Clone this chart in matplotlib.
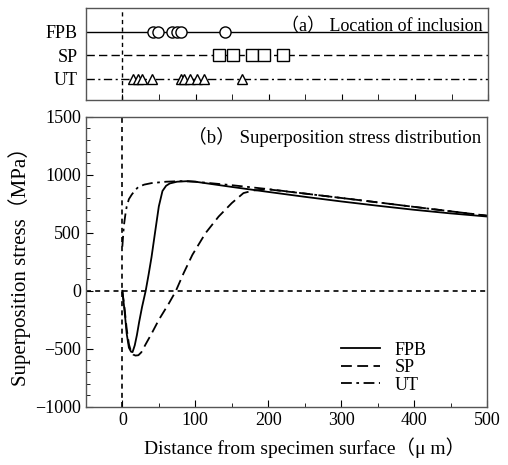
import numpy as np
import matplotlib
matplotlib.use("Agg")
import matplotlib.pyplot as plt
from matplotlib.ticker import MultipleLocator

plt.rcParams['font.family'] = ['Liberation Serif', 'Noto Sans CJK JP', 'DejaVu Sans']

# (a) inclusion locations, um
fpb_loc = [42, 48, 68, 74, 80, 140]
sp_loc = [132, 151, 177, 193, 219]
ut_loc = [14, 21, 27, 41, 80, 84, 93, 102, 112, 163]

# (b) superposition stress curves
fpb_x = [0, 3, 6, 9, 12, 14, 17, 20, 23, 27, 32, 36, 40, 45, 50, 55, 60, 65, 75, 90,
         100, 150, 200, 250, 300, 350, 400, 450, 500]
fpb_y = [0, -170, -370, -490, -525, -528, -470, -380, -270, -140, 0, 140, 290, 510, 727,
         860, 905, 925, 940, 945, 940, 895, 852, 810, 770, 733, 698, 667, 640]

sp_x = [0, 3, 6, 9, 12, 15, 18, 22, 26, 32, 40, 50, 64, 73, 84, 96, 114, 132, 150, 166,
        180, 200, 250, 300, 350, 400, 450, 500]
sp_y = [0, -150, -330, -460, -525, -550, -558, -555, -530, -460, -370, -250, -106, -6,
        152, 310, 497, 640, 756, 842, 865, 874, 838, 800, 762, 723, 685, 647]

ut_x = [0, 2, 4, 6, 9, 13, 18, 22, 30, 40, 60, 80, 100, 150, 200, 250, 300, 350, 400,
        450, 500]
ut_y = [380, 555, 650, 727, 790, 830, 870, 895, 915, 928, 940, 945, 940, 910, 876, 838,
        800, 762, 723, 685, 647]

dash_sp = (6, 3)
dash_ut = (6, 2.5, 1.5, 2.5)
fs = 13

fig = plt.figure(figsize=(5.08, 4.65), dpi=100)
ax1 = fig.add_axes([0.169, 0.785, 0.792, 0.198])
ax2 = fig.add_axes([0.169, 0.125, 0.790, 0.624])

# top panel
ax1.axhline(3, color='black', lw=1.0, zorder=1)
ax1.axhline(2, color='black', lw=1.0, dashes=dash_sp, zorder=1)
ax1.axhline(1, color='black', lw=1.0, dashes=dash_ut, zorder=1)
ax1.axvline(0, color='black', lw=1.0, dashes=(3, 2.5), zorder=1)
ax1.plot(fpb_loc, [3] * len(fpb_loc), 'o', ms=8, mfc='white', mec='black', mew=1.0, ls='none')
ax1.plot(sp_loc, [2] * len(sp_loc), 's', ms=8, mfc='white', mec='black', mew=1.0, ls='none')
ax1.plot(ut_loc, [1] * len(ut_loc), '^', ms=7.5, mfc='white', mec='black', mew=1.0, ls='none')
ax1.set_xlim(-50, 500)
ax1.set_ylim(0.1, 4.0)
ax1.set_yticks([3, 2, 1])
ax1.set_yticklabels(['FPB', 'SP', 'UT'], fontsize=fs)
ax1.tick_params(axis='y', length=0, pad=6)
ax1.xaxis.set_major_locator(MultipleLocator(100))
ax1.xaxis.set_minor_locator(MultipleLocator(50))
ax1.tick_params(axis='x', which='both', direction='in', labelbottom=False, length=4)
ax1.text(0.985, 0.80, '（a） Location of inclusion', transform=ax1.transAxes,
         ha='right', va='center', fontsize=13)

# bottom panel
ax2.plot(fpb_x, fpb_y, color='black', lw=1.3, label='FPB')
ax2.plot(sp_x, sp_y, color='black', lw=1.3, dashes=dash_sp, label='SP')
ax2.plot(ut_x, ut_y, color='black', lw=1.3, dashes=dash_ut, label='UT')
ax2.axhline(0, color='black', lw=1.2, dashes=(3, 2.5), zorder=0)
ax2.axvline(0, color='black', lw=1.2, dashes=(3, 2.5), zorder=0)
ax2.set_xlim(-50, 500)
ax2.set_ylim(-1000, 1500)
ax2.xaxis.set_minor_locator(MultipleLocator(50))
ax2.yaxis.set_minor_locator(MultipleLocator(100))
ax2.tick_params(which='both', direction='in', labelsize=fs)
ax2.tick_params(which='major', length=5)
ax2.tick_params(which='minor', length=3)
ax2.set_xticks([0, 100, 200, 300, 400, 500])
ax2.set_xticklabels(['0', '100', '200', '300', '400', '500'])
ax2.set_yticks([-1000, -500, 0, 500, 1000, 1500])
ax2.set_yticklabels(['−1000', '−500', '0', '500', '1000', '1500'])
ax2.set_xlabel('Distance from specimen surface（μ m）', fontsize=14)
ax2.xaxis.set_label_coords(0.546, -0.105)
ax2.set_ylabel('Superposition stress（MPa）', fontsize=15, labelpad=3)
ax2.text(0.985, 0.93, '（b） Superposition stress distribution', transform=ax2.transAxes,
         ha='right', va='center', fontsize=13.5)
ax2.legend(loc='lower right', frameon=False, fontsize=fs, handlelength=2.2,
           labelspacing=0.02, bbox_to_anchor=(0.89, -0.01))

for ax in (ax1, ax2):
    for s in ax.spines.values():
        s.set_color('#555555')
        s.set_linewidth(1.0)

fig.savefig('out.png', dpi=100)
